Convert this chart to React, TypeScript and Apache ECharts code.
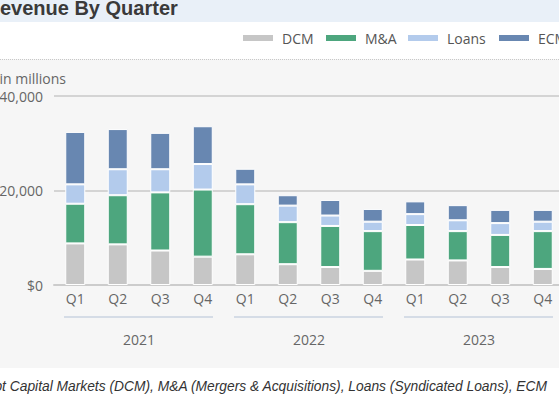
import React, { useEffect, useRef } from "react";
import * as echarts from "echarts";

const quarters = ["Q1", "Q2", "Q3", "Q4", "Q1", "Q2", "Q3", "Q4", "Q1", "Q2", "Q3", "Q4"];
const years = ["2021", "2022", "2023"];
const seriesNames = ["DCM", "M&A", "Loans", "ECM"];
const dcm = [8800, 8600, 7300, 6000, 6500, 4400, 3800, 3000, 5400, 5200, 3800, 3400];
const ma = [8400, 10400, 12300, 14200, 10600, 8900, 8700, 8400, 7300, 6200, 6800, 8000];
const loans = [4100, 5500, 4900, 5400, 4200, 3500, 2200, 2000, 2300, 2300, 2500, 2000];
const ecm = [11100, 8500, 7700, 8000, 3300, 2200, 3300, 2700, 2700, 3200, 2800, 2500];
const colors = ["#c6c6c6", "#4da67e", "#b3cbec", "#6887b1"];
const yTicks = [0, 20000, 40000];

const FONT = "'Open Sans', 'Noto Sans', sans-serif";

export default function App() {
  const ref = useRef<HTMLDivElement>(null);
  useEffect(() => {
    document.body.style.margin = "0";
    if (!ref.current) return;
    const chart = echarts.init(ref.current, null, { renderer: "svg" });
    const values = [dcm, ma, loans, ecm];
    const legendX = [243, 326, 408, 499];
    const legendGraphics: any[] = [];
    seriesNames.forEach((n, i) => {
      legendGraphics.push({
        type: "rect",
        shape: { x: legendX[i], y: 35, width: 30, height: 6 },
        style: { fill: colors[i] },
      });
      legendGraphics.push({
        type: "text",
        x: legendX[i] + 39,
        y: 38,
        style: { text: n, fill: "#555", font: `14px ${FONT}`, verticalAlign: "middle" },
      });
    });
    const option: any = {
      animation: false,
      backgroundColor: "#ffffff",
      grid: { left: 54, top: 96, width: 510, height: 189, containLabel: false, outerBoundsMode: "none" },
      xAxis: [
        {
          type: "category",
          data: quarters,
          axisLine: { lineStyle: { color: "#cccccc", width: 2 } },
          axisTick: { show: false },
          axisLabel: { color: "#666", fontSize: 14, fontFamily: FONT, margin: 6 },
        },
        {
          type: "category",
          data: years,
          position: "bottom",
          offset: 42,
          axisLine: { show: false },
          axisTick: { show: false },
          axisLabel: { color: "#666", fontSize: 14, fontFamily: FONT, margin: 5 },
        },
      ],
      yAxis: {
        type: "value",
        min: yTicks[0],
        max: yTicks[yTicks.length - 1],
        interval: yTicks[1] - yTicks[0],
        axisLine: { show: false },
        axisTick: { show: false },
        axisLabel: {
          color: "#666",
          fontSize: 14,
          fontFamily: FONT,
          margin: 11,
          formatter: (v: number) => "$" + v.toLocaleString("en-US"),
        },
        splitLine: { lineStyle: { color: "#d4d4d4", width: 2 } },
      },
      series: seriesNames.map((n, i) => ({
        name: n,
        type: "bar",
        stack: "total",
        barWidth: 20,
        data: values[i],
        itemStyle: { color: colors[i], borderColor: "#ffffff", borderWidth: 1 },
      })),
      graphic: [
        { type: "rect", z: -10, silent: true, shape: { x: 0, y: 0, width: 559, height: 22 }, style: { fill: "#e9f0f8" } },
        { type: "rect", z: -10, silent: true, shape: { x: 0, y: 59, width: 559, height: 309 }, style: { fill: "#f6f6f6" } },
        {
          type: "line",
          z: -9,
          shape: { x1: 0, y1: 59.5, x2: 559, y2: 59.5 },
          style: { stroke: "#c8c8c8", lineWidth: 1, lineDash: [1, 1] },
        },
        {
          type: "text",
          x: -14.5,
          y: 8,
          style: { text: "Revenue By Quarter", fill: "#3a3a3a", font: "bold 20px 'Liberation Sans', Arial, sans-serif", verticalAlign: "middle" },
        },
        ...legendGraphics,
        {
          type: "text",
          x: 66,
          y: 78,
          style: { text: "in millions", fill: "#666", font: `14px ${FONT}`, align: "right", verticalAlign: "middle" },
        },
        {
          type: "text",
          x: 547,
          y: 386,
          style: {
            text: "Debt Capital Markets (DCM), M&A (Mergers & Acquisitions), Loans (Syndicated Loans), ECM",
            fill: "#333",
            font: "italic 13.8px 'Liberation Sans', Arial, sans-serif",
            align: "right",
            verticalAlign: "middle",
          },
        },
      ],
    };
    chart.setOption(option);
    // year group lines, from the year axis bands
    const band = 510 / years.length;
    const yearLines = years.map((y) => {
      const c = chart.convertToPixel({ xAxisIndex: 1 }, y) as number;
      const start = c - band / 2 + 10;
      const end = c + band / 2 - 11;
      return {
        type: "line",
        shape: { x1: start, y1: 317, x2: end, y2: 317 },
        style: { stroke: "#d5dce6", lineWidth: 2 },
      };
    });
    chart.setOption({ graphic: [...option.graphic, ...yearLines] });
    return () => chart.dispose();
  }, []);
  return <div ref={ref} style={{ width: 559, height: 399 }} />;
}
